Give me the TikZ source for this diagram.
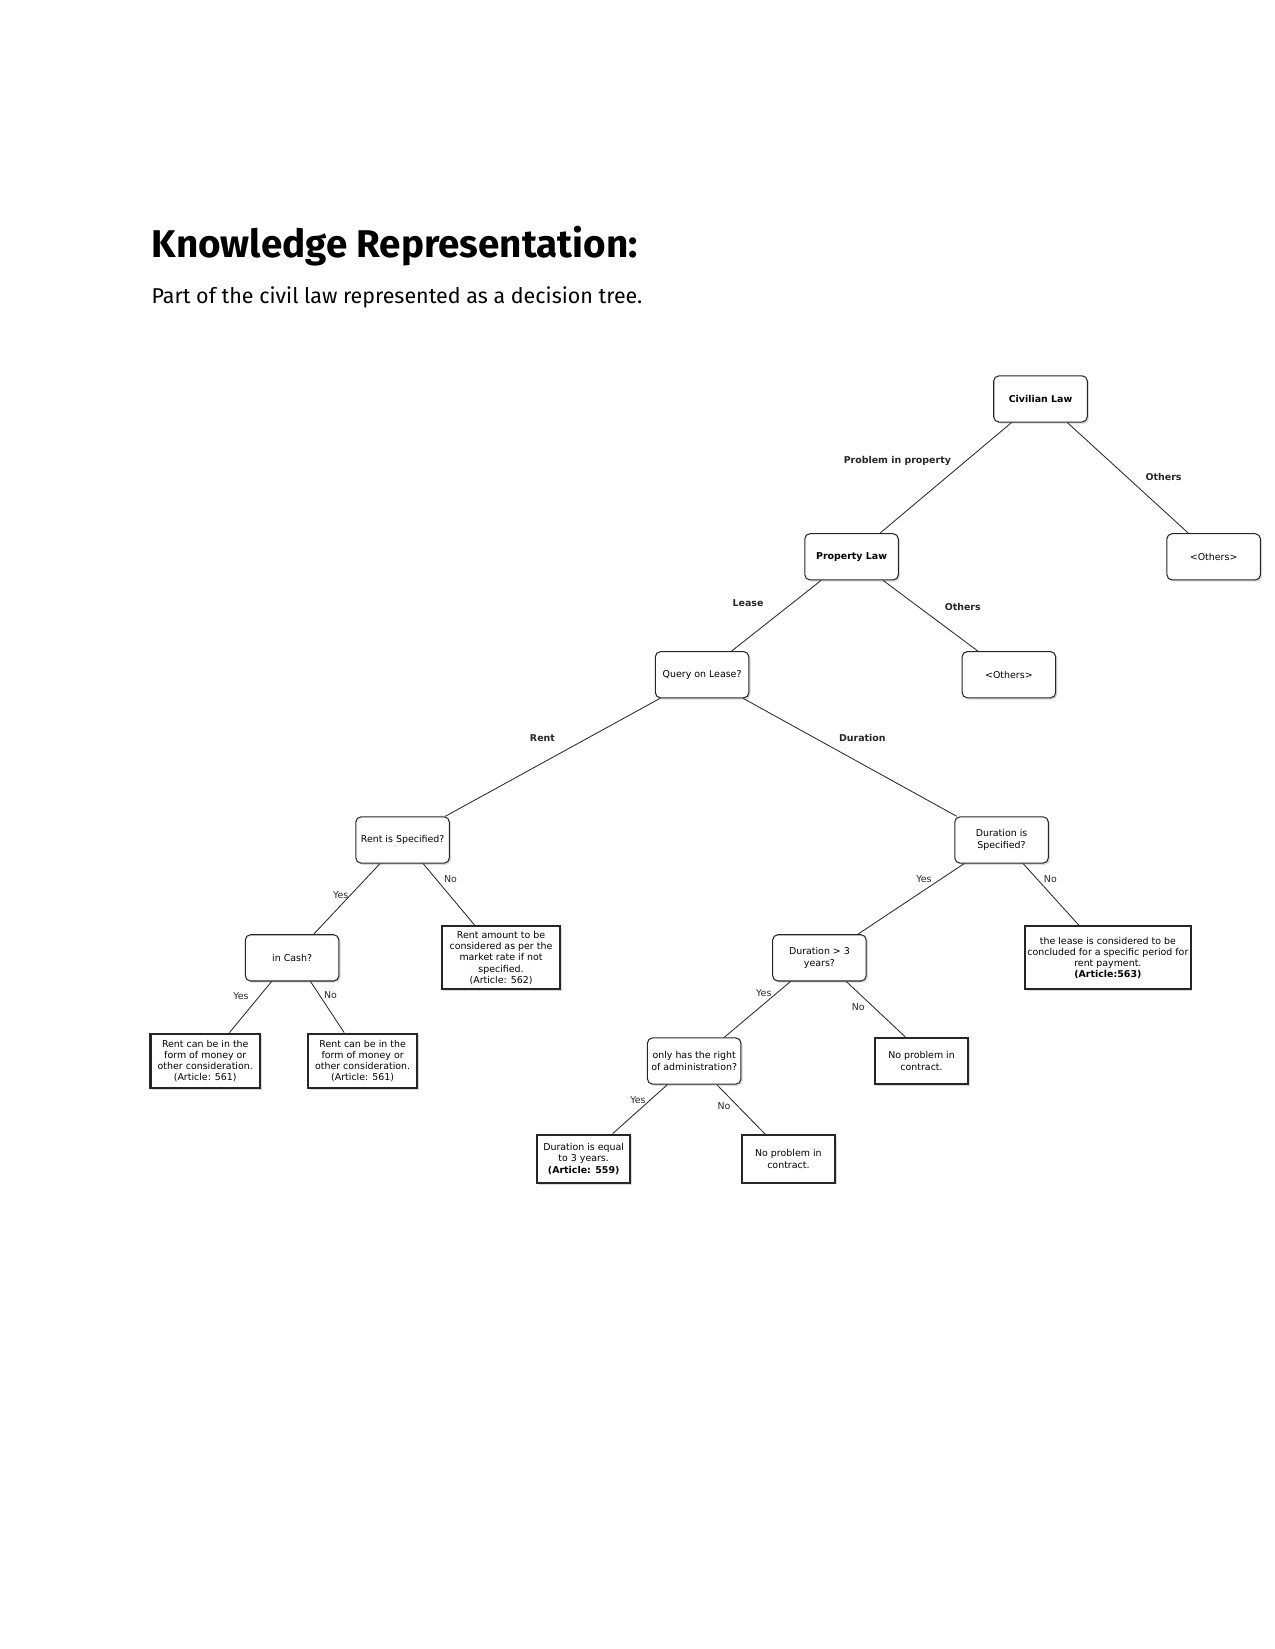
\documentclass[tikz,border=0pt]{standalone}
\usepackage{fontspec}
\setmainfont{Fira Sans}
\newfontfamily\baumfont{DejaVu Sans}
\usetikzlibrary{calc,positioning,shadows}
\newcommand\baumtext{\baumfont\fontsize{4.53}{5.37}\selectfont}
\tikzset{
  schatten/.style={drop shadow={shadow xshift=0.8pt,shadow yshift=-0.8pt,opacity=0.3}},
  frage/.style={draw=black!85,line width=0.5pt,rounded corners=2.5pt,fill=white,schatten,
    minimum width=44.9pt,minimum height=22.2pt,inner sep=1pt,align=center,font=\baumtext},
  blatt/.style={draw=black!85,line width=1pt,fill=white,schatten,
    inner sep=1pt,align=center,font=\baumtext},
  kante/.style={line width=0.4pt,black!85},
  zweig/.style={font=\baumtext\bfseries,inner sep=0.5pt},
  antwort/.style={font=\baumtext,inner sep=0.5pt}
}
\begin{document}
\begin{tikzpicture}[x=0.50526pt,y=-0.50526pt]
%Koordinaten in Pixeln (y nach unten)
\useasboundingbox (0,0) rectangle (1211.25,1566.6);
\node[anchor=base west,font=\bfseries\fontsize{18.55}{22}\selectfont] (titel) at (137,245) {Knowledge Representation:};
\node[anchor=base west,font=\fontsize{10.3}{12}\selectfont] (untertitel) at (137,288) {Part of the civil law represented as a decision tree.};
%Fragen
\node[frage] (cl) at (988.5,379) {\bfseries Civilian Law};
\node[frage] (pl) at (809,529) {\bfseries Property Law};
\node[frage] (oA) at (1153,529) {<Others>};
\node[frage] (ql) at (667,641) {Query on Lease?};
\node[frage] (oB) at (958.5,641) {<Others>};
\node[frage] (rs) at (382.5,798) {Rent is Specified?};
\node[frage] (ds) at (951.5,798) {Duration is\\Specified?};
\node[frage] (ic) at (277.5,910) {in Cash?};
\node[frage] (dd) at (778.5,910) {Duration > 3\\years?};
\node[frage] (vw) at (659.5,1008) {only has the right\\of administration?};
%Ergebnisse
\node[blatt,minimum width=56.6pt,minimum height=30.3pt] (ra) at (476,910) {Rent amount to be\\considered as per the\\market rate if not\\specified.\\(Article: 562)};
\node[blatt,minimum width=79.4pt,minimum height=30.3pt] (lb) at (1052.5,910) {the lease is considered to be\\concluded for a specific period for\\rent payment.\\\textbf{(Article:563)}};
\node[blatt,minimum width=52.6pt,minimum height=26.3pt] (gA) at (195,1008) {Rent can be in the\\form of money or\\other consideration.\\(Article: 561)};
\node[blatt,minimum width=52.6pt,minimum height=26.3pt] (gB) at (344.5,1008) {Rent can be in the\\form of money or\\other consideration.\\(Article: 561)};
\node[blatt,minimum width=44.9pt,minimum height=22.2pt] (npA) at (875.5,1008) {No problem in\\contract.};
\node[blatt,minimum width=44.9pt,minimum height=23.2pt] (de) at (554.5,1101) {Duration is equal\\to 3 years.\\\textbf{(Article: 559)}};
\node[blatt,minimum width=44.9pt,minimum height=22.7pt] (npB) at (749,1101) {No problem in\\contract.};
%Kanten
\draw[kante] ($(cl.south)+(-27.5,0)$) --node[zweig,pos=0.35,left=6.3pt] {Problem in property} ($(pl.north)+(27,0)$);
\draw[kante] ($(cl.south)+(25.5,0)$) --node[zweig,pos=0.49,right=8.4pt] {Others} ($(oA.north)+(-24,0)$);
\draw[kante] ($(pl.south)+(-29,0)$) --node[zweig,pos=0.32,left=13.2pt] {Lease} ($(ql.north)+(28,0)$);
\draw[kante] ($(pl.south)+(30,0)$) --node[zweig,pos=0.38,right=11.6pt] {Others} ($(oB.north)+(-29.5,0)$);
\draw[kante] ($(ql.south)+(-40,0)$) --node[zweig,pos=0.34,left=14.7pt] {Rent} ($(rs.north)+(40.5,0)$);
\draw[kante] ($(ql.south)+(39,0)$) --node[zweig,pos=0.34,right=10.5pt] {Duration} ($(ds.north)+(-42.5,0)$);
\draw[kante] ($(rs.south)+(-21.5,0)$) --node[antwort,pos=0.44,left=0.5pt] {Yes} ($(ic.north)+(20.5,0)$);
\draw[kante] ($(rs.south)+(19.5,0)$) --node[antwort,pos=0.25,right=3.2pt] {No} ($(ra.north)+(-25,0)$);
\draw[kante] ($(ic.south)+(-19.5,0)$) --node[antwort,pos=0.28,left=4.7pt] {Yes} ($(gA.north)+(23,0)$);
\draw[kante] ($(ic.south)+(17.5,0)$) --node[antwort,pos=0.26,right=1.6pt] {No} ($(gB.north)+(-17.5,0)$);
\draw[kante] ($(ds.south)+(-35.5,0)$) --node[antwort,pos=0.22,left=3.7pt] {Yes} ($(dd.north)+(36.5,0)$);
\draw[kante] ($(ds.south)+(20.5,0)$) --node[antwort,pos=0.25,right=2.6pt] {No} ($(lb.north)+(-27.5,0)$);
\draw[kante] ($(dd.south)+(-27.5,0)$) --node[antwort,pos=0.2,left=2.1pt] {Yes} ($(vw.north)+(28.5,0)$);
\draw[kante] ($(dd.south)+(25.5,0)$) --node[antwort,pos=0.46,left=3.5pt] {No} ($(npA.north)+(-15.5,0)$);
\draw[kante] ($(vw.south)+(-25.5,0)$) --node[antwort,pos=0.31,left=1.6pt] {Yes} ($(de.north)+(27.5,0)$);
\draw[kante] ($(vw.south)+(21.5,0)$) --node[antwort,pos=0.43,left=2.8pt] {No} ($(npB.north)+(-22,0)$);
\end{tikzpicture}
\end{document}
